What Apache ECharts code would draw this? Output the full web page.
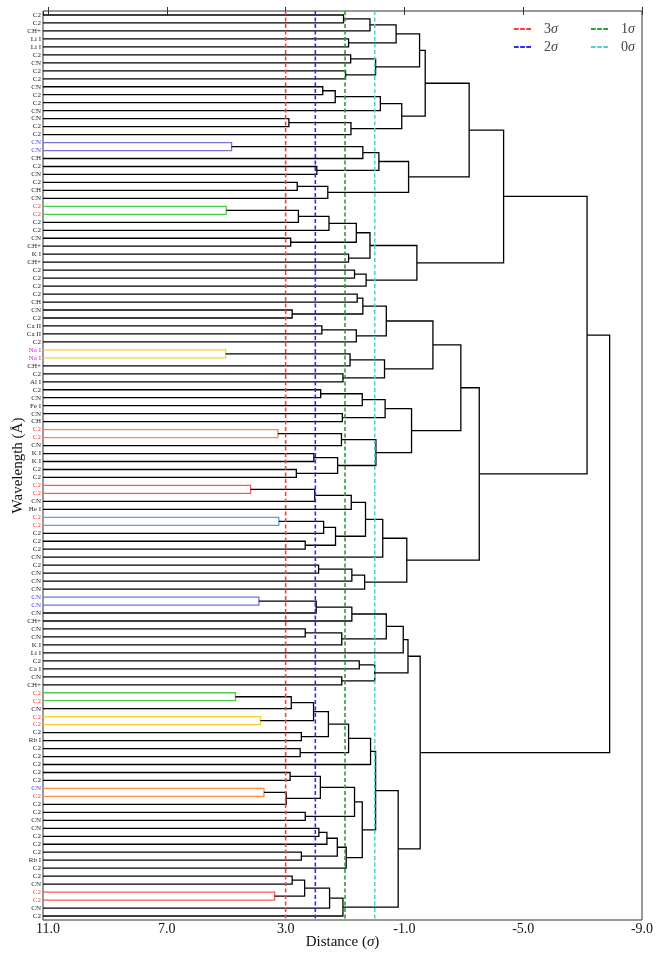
<!DOCTYPE html>
<html>
<head>
<meta charset="utf-8">
<script src="https://cdn.jsdelivr.net/npm/echarts@6/dist/echarts.min.js"></script>
<style>
html,body{margin:0;padding:0;background:#fff;}
#chart{width:664px;height:960px;}
</style>
</head>
<body>
<div id="chart"></div>
<script>
// ---- data ----
const leafLabels = [
 'C2','C2','CH+','Li I','Li I','C2','CN','C2','C2','CN',
 'C2','C2','CN','CN','C2','C2','CN','CN','CH','C2',
 'CN','C2','CH','CN','C2','C2','C2','C2','CN','CH+',
 'K I','CH+','C2','C2','C2','C2','CH','CN','C2','Ca II',
 'Ca II','C2','Na I','Na I','CH+','C2','Al I','C2','CN','Fe I',
 'CN','CH','C2','C2','CN','K I','K I','C2','C2','C2',
 'C2','CN','He I','C2','C2','C2','C2','C2','CN','C2',
 'CN','CN','CN','CN','CN','CN','CH+','CN','CN','K I',
 'Li I','C2','Ca I','CN','CH+','C2','C2','CN','C2','C2',
 'C2','Rb I','C2','C2','C2','C2','C2','CN','C2','C2',
 'C2','CN','CN','C2','C2','C2','Rb I','C2','C2','CN',
 'C2','C2','CN','C2'
];
// linkage: cluster ids 0..113 are leaves, 114+k is merge k
const linkA = [0,114,3,115,5,7,118,117,9,122,123,13,125,124,121,16,129,19,130,21,133,132,128,24,137,138,28,139,30,141,32,144,143,136,35,37,148,39,151,150,42,154,45,155,153,47,159,50,160,52,163,55,57,165,164,162,158,59,171,172,63,174,66,175,173,178,69,180,181,179,170,147,73,186,187,77,189,188,191,81,83,193,192,85,197,88,198,90,200,92,202,204,95,97,207,206,100,209,102,212,105,213,215,211,205,108,110,219,221,222,218,196,185];
const linkB = [1,2,4,116,6,8,119,120,10,11,12,14,15,126,127,17,18,20,131,22,23,134,135,25,26,27,29,140,31,142,33,34,145,146,36,38,149,40,41,152,43,44,46,156,157,48,49,51,161,53,54,56,58,166,167,168,169,60,61,62,64,65,67,176,177,68,70,71,72,182,183,184,74,75,76,78,79,190,80,82,84,194,195,86,87,89,199,91,201,93,203,94,96,98,99,208,101,210,103,104,106,214,107,216,217,109,111,220,112,113,223,224,225];
const linkH = [1.05,0.16,0.88,-0.72,0.81,0.98,-0.03,-1.51,1.75,1.33,-0.19,2.89,0.80,-0.91,-1.70,4.82,0.40,1.95,-0.14,2.61,1.58,-1.14,-3.18,5.00,2.57,1.54,2.83,0.62,0.88,0.16,0.68,0.29,-1.42,-4.34,0.59,2.78,0.40,1.78,0.62,-0.39,5.02,0.83,1.07,-0.33,-1.96,1.82,0.42,1.09,-0.35,3.26,1.12,2.05,2.64,1.25,-0.04,-1.24,-2.90,4.18,2.02,0.79,3.23,1.72,2.34,1.32,0.31,-0.27,1.89,0.77,0.34,-1.08,-3.52,-7.15,3.90,1.97,0.77,2.34,1.11,-0.39,-0.96,0.52,1.11,0.00,-1.12,4.69,2.81,3.85,2.06,2.47,1.56,2.51,0.88,0.14,2.85,3.73,2.98,1.83,2.34,0.68,1.88,1.61,2.47,1.26,0.96,0.42,-0.03,2.78,3.37,2.36,1.52,1.07,-0.79,-1.53,-7.91];
// merges drawn in colour (tight clusters)
const coloredMerges = [15,23,40,49,57,60,72,83,85,93,106];
const sigmaNames = ['3σ','2σ','1σ','0σ'];
const sigmaValues = [3,2,1,0];
const xTicks = {min:-9, interval:4};

// ---- styles ----
const X_MAX = 11.17;
const mergeColors = {15:'#7474cf',23:'#4ccc4c',40:'#ffcc2a',49:'#ff8a3c',57:'#ff5757',60:'#5a9cf0',72:'#7474cf',83:'#4ccc4c',85:'#ffcc2a',93:'#ff8a3c',106:'#ff5757'};
const sigmaColors = ['#ff3b3b','#2a2aff','#2ca02c','#4fd0d0'];
const speciesColor = {'C2':'#ff3333','CN':'#3d3dff','Na I':'#dd22dd'};
const serif = '"Liberation Serif","DejaVu Serif",serif';

// ---- geometry from linkage ----
const n = leafLabels.length;
const pos = [], hgt = [], members = [];
for (let i = 0; i < n; i++) { pos[i] = 5 + 10 * i; hgt[i] = X_MAX; members[i] = [i]; }
const linkData = [];
const coloredLeaves = new Set();
for (let k = 0; k < linkA.length; k++) {
  const a = linkA[k], b = linkB[k], h = linkH[k], id = n + k;
  pos[id] = (pos[a] + pos[b]) / 2; hgt[id] = h;
  members[id] = members[a].concat(members[b]);
  const col = mergeColors[k] || '#000';
  if (coloredMerges.indexOf(k) >= 0) members[id].forEach(l => coloredLeaves.add(l));
  linkData.push({
    coords: [[hgt[a], pos[a]], [h, pos[a]], [h, pos[b]], [hgt[b], pos[b]]],
    lineStyle: {color: col}
  });
}
const yMax = 10 * n;

const series = [{
  type: 'lines', coordinateSystem: 'cartesian2d', polyline: true,
  xAxisIndex: 0, yAxisIndex: 0, silent: true, z: 3,
  lineStyle: {width: 1.3, opacity: 1},
  data: linkData
}];
sigmaNames.forEach((nm, i) => {
  series.push({
    name: nm, type: 'line', xAxisIndex: 0, yAxisIndex: 0, symbol: 'none', silent: true, z: 4,
    color: sigmaColors[i],
    lineStyle: {color: sigmaColors[i], width: 1.6, type: [4, 2.5]},
    data: [[sigmaValues[i], 0], [sigmaValues[i], yMax]]
  });
});

const dashIcon = 'path://M0,0h5v2h-5z M6.5,0h5v2h-5z M13,0h5v2h-5z';
const legendBase = {
  orient: 'vertical', itemWidth: 17, itemHeight: 2, itemGap: 4, icon: dashIcon,
  formatter: nm => nm.slice(0, -1) + '{i|σ}',
  textStyle: {fontFamily: serif, fontSize: 14, color: '#444', padding: [0, 0, 0, 8],
    rich: {i: {fontFamily: serif, fontSize: 14, fontStyle: 'italic', color: '#444'}}},
  selectedMode: false
};

const chart = echarts.init(document.getElementById('chart'), null, {renderer: 'canvas'});
chart.setOption({
  animation: false,
  backgroundColor: '#fff',
  grid: {left: 43, right: 22, top: 11, bottom: 40, show: true, borderColor: '#333', borderWidth: 1,
    backgroundColor: 'transparent', containLabel: false, outerBoundsMode: 'none'},
  legend: [
    Object.assign({}, legendBase, {data: ['3σ','2σ'], left: 509, top: 17}),
    Object.assign({}, legendBase, {data: ['1σ','0σ'], left: 586, top: 17})
  ],
  xAxis: [{
    type: 'value', inverse: true, min: xTicks.min, max: X_MAX, interval: xTicks.interval,
    name: 'Distance ({i|σ})', nameLocation: 'middle', nameGap: 15, nameMoveOverlap: false,
    nameTextStyle: {fontFamily: serif, fontSize: 15, color: '#111',
      rich: {i: {fontFamily: serif, fontSize: 15, fontStyle: 'italic', color: '#111'}}},
    axisLine: {show: false}, splitLine: {show: false},
    axisTick: {inside: true, length: 4, lineStyle: {color: '#333'}},
    axisLabel: {showMaxLabel: false, margin: 2, fontFamily: serif, fontSize: 14, color: '#111',
      formatter: v => v.toFixed(1)}
  }, {
    type: 'value', position: 'top', inverse: true, min: xTicks.min, max: X_MAX, interval: xTicks.interval,
    axisLine: {show: false}, splitLine: {show: false}, axisLabel: {show: false},
    axisTick: {inside: true, length: 4, lineStyle: {color: '#333'}}
  }],
  yAxis: [{
    type: 'value', inverse: true, min: 0, max: yMax, show: false
  }, {
    type: 'category', inverse: true, position: 'left', boundaryGap: true,
    data: leafLabels,
    name: 'Wavelength (Å)', nameLocation: 'middle', nameGap: 17, nameRotate: 90, nameMoveOverlap: false,
    nameTextStyle: {fontFamily: serif, fontSize: 15, color: '#111'},
    axisLine: {show: false}, axisTick: {show: false}, splitLine: {show: false},
    axisLabel: {
      interval: 0, margin: 2, fontFamily: serif, fontSize: 7, color: '#222',
      formatter: (v, idx) => {
        if (coloredLeaves.has(idx) && speciesColor[v]) {
          const key = v === 'C2' ? 'r' : (v === 'CN' ? 'b' : 'm');
          return '{' + key + '|' + v + '}';
        }
        return v;
      },
      rich: {
        r: {color: speciesColor['C2'], fontFamily: serif, fontSize: 7},
        b: {color: speciesColor['CN'], fontFamily: serif, fontSize: 7},
        m: {color: speciesColor['Na I'], fontFamily: serif, fontSize: 7}
      }
    }
  }],
  series: series
});
</script>
</body>
</html>
